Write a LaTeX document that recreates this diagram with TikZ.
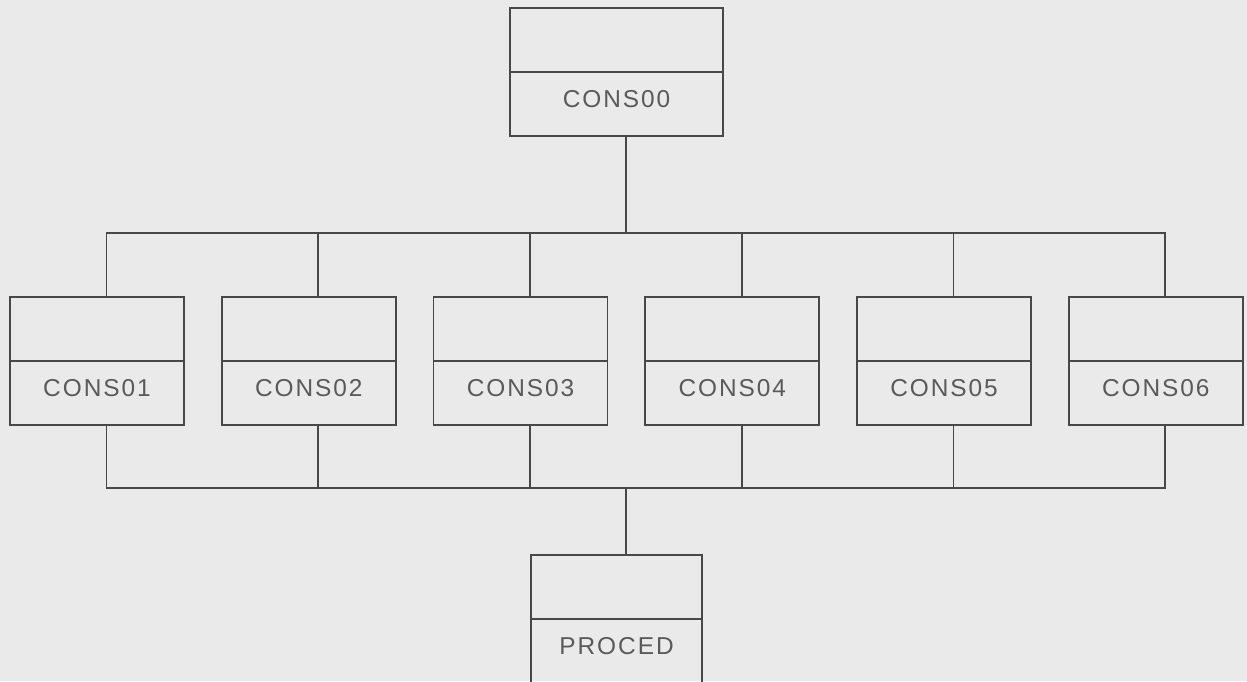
\documentclass[tikz,border=0pt]{standalone}
\usepackage{fontspec}
\setmainfont{Liberation Sans}[LetterSpace=8]
\usetikzlibrary{positioning, calc}
\definecolor{paper}{HTML}{EAEAEA}
\definecolor{ink}{HTML}{484848}
\tikzset{
    block/.style={
        draw=ink, line width=1pt,
        minimum width = 3.48cm,
        minimum height = 2.56cm,
        inner sep = 0pt
    },
    modname/.style={text=ink!90, font=\fontsize{13.9}{16}\selectfont, inner sep=0pt},
    every node/.style = {node distance=0.72cm},
    line/.style = {draw=ink, line width=1pt}
}
\begin{document}
\begin{tikzpicture}

    \fill[paper] (0,0) rectangle (24.94,-13.62);
    \useasboundingbox (0,0) rectangle (24.94,-13.62);

    \node[block, minimum width=4.26cm] (cons00) at (12.33,-1.44) {};
    \node[block] (cons01) at (1.94,-7.22) {};
    \node[block, right = of cons01] (cons02) {};
    \node[block, right = of cons02] (cons03) {};
    \node[block, right = of cons03] (cons04) {};
    \node[block, right = of cons04] (cons05) {};
    \node[block, right = of cons05] (cons06) {};
    \node[block, minimum width=3.42cm] (proced) at (12.33,-12.38) {};

    % split lines
    \foreach \n in {cons00,cons01,cons02,cons03,cons04,cons05,cons06,proced}
        \draw[line] (\n.west) -- (\n.east);

    \node[modname] (t00) at ([yshift=-5.4mm]cons00.center) {CONS00};
    \node[modname] (t01) at ([yshift=-5.4mm]cons01.center) {CONS01};
    \node[modname] (t02) at ([yshift=-5.4mm]cons02.center) {CONS02};
    \node[modname] (t03) at ([yshift=-5.4mm]cons03.center) {CONS03};
    \node[modname] (t04) at ([yshift=-5.4mm]cons04.center) {CONS04};
    \node[modname] (t05) at ([yshift=-5.4mm]cons05.center) {CONS05};
    \node[modname] (t06) at ([yshift=-5.4mm]cons06.center) {CONS06};
    \node[modname] (tpr) at ([yshift=-5.4mm]proced.center) {PROCED};

    % upper bus
    \draw[line] ([xshift=1.9mm]cons00.south) -- ++(0,-1.92) coordinate (bustop);
    \draw[line] ([xshift=1.9mm]cons01.north) |- (bustop) -| ([xshift=1.9mm]cons06.north);
    \foreach \n in {cons02,cons03,cons04,cons05}
        \draw[line] ([xshift=1.9mm]\n.north) -- ([xshift=1.9mm]\n.north |- bustop);

    % lower bus
    \draw[line] ([xshift=1.9mm]proced.north) -- ++(0,1.32) coordinate (busbot);
    \draw[line] ([xshift=1.9mm]cons01.south) |- (busbot) -| ([xshift=1.9mm]cons06.south);
    \foreach \n in {cons02,cons03,cons04,cons05}
        \draw[line] ([xshift=1.9mm]\n.south) -- ([xshift=1.9mm]\n.south |- busbot);

\end{tikzpicture}
\end{document}
